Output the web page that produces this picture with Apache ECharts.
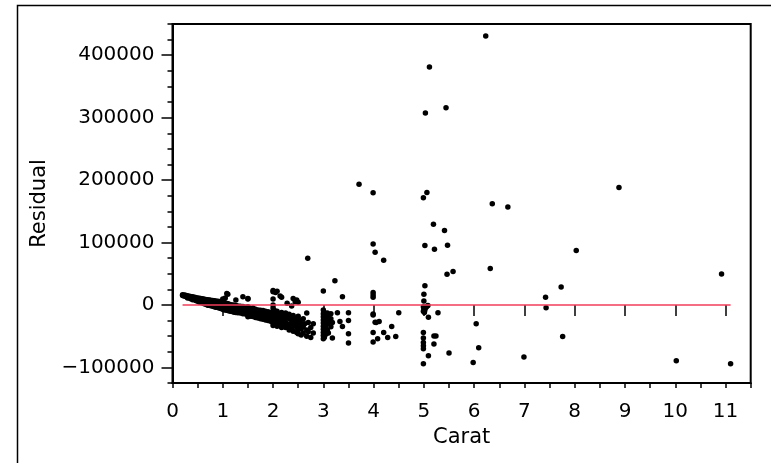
<!DOCTYPE html>
<html><head><meta charset="utf-8">
<script src="https://cdn.jsdelivr.net/npm/echarts@6/dist/echarts.min.js"></script>
<style>html,body{margin:0;padding:0;background:#fff}#c{width:771px;height:463px}</style>
</head><body><div id="c"></div>
<script>
// Dense band of small stones: [carat, [residuals...]]
const bandUnder1 = [
  [0.20,[16500,15000]],[0.23,[16000,14200]],[0.26,[15400,13500]],[0.30,[14800,12600,11000]],
  [0.33,[14000,11800]],[0.36,[13500,11000,9800]],[0.40,[13000,10200,8500]],[0.43,[12300,9400]],
  [0.46,[11800,8800,7000]],[0.50,[11300,8400,5800]],[0.53,[10800,7600,4800]],[0.56,[10300,7000,4000]],
  [0.60,[9800,6200,3000]],[0.63,[9300,5600,2000]],[0.66,[8800,5000,1200]],[0.70,[8400,4200,500,-300]],
  [0.73,[8000,3600,-500]],[0.76,[7600,3000,-1200]],[0.80,[7200,2200,-2000]],[0.83,[6800,1600,-2800]],
  [0.86,[6400,1000,-3500]],[0.90,[6000,2000,400,-4200]],[0.93,[5600,-200,-4800]],[0.96,[5200,-1000,-5500]]
];
const band1to2 = [
  [1.00,[9600,5000,1500,-2000,-5000,-7000]],[1.02,[4000,-3000,-7500]],[1.05,[11000,3000,-1500,-6000,-8000]],
  [1.08,[18500,2500,-4000,-8500]],[1.10,[17000,2000,-9000]],[1.13,[1000,-5000,-9500]],
  [1.16,[500,-3000,-7000,-10000]],[1.20,[0,-4000,-8000,-11000]],[1.23,[-500,-6000,-11500]],
  [1.26,[8000,-1000,-5000,-9000,-12000]],[1.30,[-1500,-7000,-12500]],[1.35,[-2000,-8000,-13000]],
  [1.40,[13000,-2500,-6000,-10000,-14000]],[1.45,[-3500,-9000,-14500]],
  [1.50,[10500,9500,-3000,-6000,-10000,-13000,-16000,-19000]],[1.53,[-5000,-12000,-17000]],
  [1.56,[-6000,-10000,-15000,-18000]],[1.60,[-5000,-9000,-14000,-18500]],[1.65,[-7000,-12000,-16000,-20000]],
  [1.70,[-8000,-13000,-17000,-21000]],[1.75,[-8500,-15000,-22000]],[1.80,[-9000,-14000,-19000,-23000]],
  [1.85,[-10000,-16000,-24000]],[1.90,[-11000,-15000,-20000,-25000]],[1.95,[-12000,-18000,-26000]]
];
const band2to3 = [
  [2.00,[21000,23000,9500,0,-5000,-10000,-15000,-20000,-25000,-29000,-33000]],[2.02,[-8000,-18000,-27000,-31000]],
  [2.05,[20000,-12000,-22000,-30000]],[2.08,[22000,-10000,-18000,-25000,-34000]],[2.10,[-14000,-21000,-28000]],
  [2.14,[14500,-15000,-24000,-32000]],[2.17,[12500,-12000,-20000,-30000,-36000]],[2.20,[-16000,-24000,-33000]],
  [2.25,[-13000,-20000,-28000,-36000]],[2.28,[2700,-18000,-30000]],[2.32,[-15000,-22000,-34000,-40000]],
  [2.37,[-1500,-20000,-28000,-38000]],[2.40,[10500,-17000,-25000,-33000,-42000]],[2.44,[5300,-22000,-31000]],
  [2.47,[8000,-24000,-36000,-44000]],[2.50,[4500,-18000,-27000,-34000,-40000,-46000]],[2.53,[-24000,-32000]],
  [2.56,[-28000,-38000,-48000]],[2.60,[-22000,-35000,-45000]],[2.63,[-30000]],[2.67,[-13000,-40000,-50000]],
  [2.69,[75000]],[2.70,[-28000,-43000]],[2.75,[-36000,-52000]],[2.80,[-45000,-30000]]
];
const band3to5 = [
  [3.00,[22300,-8000,-14000,-19000,-24000,-29000,-34000,-39000,-44000,-49000,-54000]],
  [3.02,[-12000,-22000,-32000,-42000,-52000]],[3.05,[-17000,-27000,-37000,-47000]],
  [3.08,[-13000,-20000,-30000,-40000]],[3.10,[-16000,-26000,-45000]],[3.15,[-14000,-22000,-35000]],
  [3.18,[-53000,-28000]],[3.23,[38800]],[3.28,[-12300]],[3.33,[-26600]],[3.38,[13300,-34600]],
  [3.50,[-12300,-25000,-46300,-61100]],[3.71,[193500]],
  [3.99,[179700,97800,20000,16000,12300,-14400,-16000,-44200,-59500]],[4.03,[84500,-27600]],
  [4.05,[-28200]],[4.08,[-54200]],[4.11,[-26600]],[4.20,[71800,-44200]],[4.28,[-52200]],
  [4.36,[-34600]],[4.44,[-50600]],[4.50,[-12500]]
];
const band5up = [
  [4.99,[171800,-3000,-10000,-44200,-53100,-60100,-65400,-70200,-94100]],[5.00,[17000,6400,-6000]],
  [5.01,[-12000]],[5.02,[95200,30800,-8000]],[5.03,[307400]],[5.04,[-4000]],[5.06,[180200,-2000]],
  [5.08,[-1000]],[5.09,[-19600,-81300]],[5.11,[381200]],[5.19,[129200]],[5.20,[-49900,-62700]],
  [5.21,[89300]],[5.24,[-49900]],[5.28,[-12300]],[5.41,[119100]],[5.44,[315800]],[5.46,[49000]],
  [5.47,[95700]],[5.50,[-77000]],[5.58,[53700]],[5.98,[-92000]],[6.04,[-30300]],[6.09,[-68600]],
  [6.23,[430700]],[6.32,[58500]],[6.36,[162200]],[6.67,[156800]],[6.99,[-83400]],[7.42,[12300]],
  [7.43,[-4300]],[7.73,[28700]],[7.76,[-50600]],[8.03,[87200]],[8.88,[188200]],[10.02,[-89300]],
  [10.92,[49400]],[11.10,[-94100]]
];
const fitCarat = [0.2, 11.1];
const fitResidual = [0, 0];
const xMajorTicks = [0,1,2,3,4,5,6,7,8,9,10,11];
const yMajorTicks = [-100000,0,100000,200000,300000,400000];

const points = [];
[bandUnder1, band1to2, band2to3, band3to5, band5up].forEach(g =>
  g.forEach(([c, rs]) => rs.forEach(r => points.push([c, r]))));
const fitData = fitCarat.map((c, i) => [c, fitResidual[i]]);

const FONT = 'DejaVu Sans';
const fmtNum = v => (v < 0 ? '\u2212' + Math.abs(v) : String(v));
const chart = echarts.init(document.getElementById('c'));
chart.setOption({
  animation: false,
  backgroundColor: '#fff',
  graphic: [{ type: 'rect', shape: { x: 17.5, y: 5.5, width: 800, height: 500 },
    style: { fill: 'none', stroke: '#000', lineWidth: 1.5 }, silent: true }],
  grid: { left: 172.5, top: 24, right: 20.3, bottom: 80, show: true, borderColor: '#000', borderWidth: 2 },
  xAxis: [{
    type: 'value', min: 0, max: 11.5, interval: 0.5,
    name: 'Carat', nameLocation: 'middle', nameGap: 41,
    nameTextStyle: { fontFamily: FONT, fontSize: 21, color: '#000' },
    axisLine: { show: true, onZero: false, lineStyle: { color: '#000', width: 2 } },
    axisTick: { show: true, length: 5, lineStyle: { color: '#000', width: 1.5 } },
    axisLabel: { fontFamily: FONT, fontSize: 20, color: '#000', margin: 19,
      formatter: v => (Math.abs(v - Math.round(v)) < 1e-9 ? String(Math.round(v)) : '') },
    splitLine: { show: false }
  }, {
    type: 'value', min: 0, max: 11.5, position: 'bottom',
    axisLine: { show: false }, splitLine: { show: false }, axisLabel: { show: false },
    axisTick: { show: true, length: 11, customValues: xMajorTicks, lineStyle: { color: '#000', width: 1.5 } }
  }],
  yAxis: [{
    type: 'value', min: -125000, max: 450000, interval: 25000,
    name: 'Residual', nameLocation: 'middle', nameGap: 116, nameRotate: 90,
    nameTextStyle: { fontFamily: FONT, fontSize: 21, color: '#000' },
    axisLine: { show: true, onZero: false, lineStyle: { color: '#000', width: 2 } },
    axisTick: { show: true, length: 5, lineStyle: { color: '#000', width: 1.5 } },
    axisLabel: { fontFamily: FONT, fontSize: 20, color: '#000', margin: 18,
      formatter: v => (v % 100000 === 0 ? fmtNum(v) : '') },
    splitLine: { show: false }
  }, {
    type: 'value', min: -125000, max: 450000, position: 'left',
    axisLine: { show: false }, splitLine: { show: false }, axisLabel: { show: false },
    axisTick: { show: true, length: 11, customValues: yMajorTicks, lineStyle: { color: '#000', width: 1.5 } }
  }],
  series: [{
    type: 'scatter', xAxisIndex: 0, yAxisIndex: 0, data: points,
    symbolSize: 5.5, itemStyle: { color: '#000', opacity: 1 }, z: 2
  }, {
    type: 'line', xAxisIndex: 0, yAxisIndex: 0, data: fitData, showSymbol: false, symbol: 'none',
    lineStyle: { color: '#f03c58', width: 1.6 }, z: 3
  }]
});
</script></body></html>
